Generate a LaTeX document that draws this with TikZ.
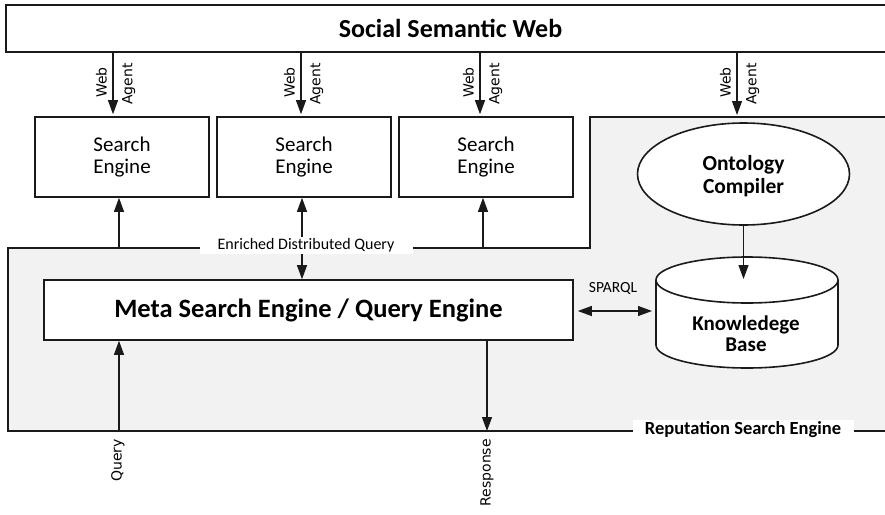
\documentclass[tikz,border=0pt]{standalone}
\usepackage{fontspec}
\setmainfont{Carlito}
\newfontfamily\vfont{DejaVu Sans}
\usetikzlibrary{arrows.meta,shapes.geometric}
\definecolor{bg}{HTML}{F2F2F2}
\definecolor{ln}{HTML}{1A1A1A}
\begin{document}
\begin{tikzpicture}[x=1pt,y=-1pt,
  box/.style={draw=ln, line width=1.6pt, fill=white, inner sep=0pt, align=center},
  arr/.style={-{Triangle[length=14pt,width=10pt]}, line width=1.1pt, draw=ln},
  darr/.style={{Triangle[length=14pt,width=10pt]}-{Triangle[length=14pt,width=10pt]}, line width=1.1pt, draw=ln},
  vlab/.style={font=\vfont\fontsize{14}{17}\selectfont, inner sep=0pt, rotate=90},
  wlab/.style={fill=white, inner sep=0pt}]
\clip (0,0) rectangle (885,514);
\fill[white] (0,0) rectangle (885,514);
% reputation search engine region
\draw[fill=bg, draw=ln, line width=1.4pt] (8,248) -- (590,248) -- (590,117) -- (900,117) -- (900,431) -- (8,431) -- cycle;
% top box
\node[box, minimum width=889pt, minimum height=47pt, font=\bfseries\fontsize{26}{30}\selectfont] (ssw) at (450.5,28.5) {Social Semantic Web};
% search engines
\node[box, minimum width=174pt, minimum height=80pt, font=\fontsize{21}{22}\selectfont] (se1) at (122,157) {Search\\Engine};
\node[box, minimum width=174pt, minimum height=80pt, font=\fontsize{21}{22}\selectfont] (se2) at (304,157) {Search\\Engine};
\node[box, minimum width=174pt, minimum height=80pt, font=\fontsize{21}{22}\selectfont] (se3) at (486,157) {Search\\Engine};
% meta search engine
\node[box, minimum width=529pt, minimum height=60pt, font=\bfseries\fontsize{26.5}{30}\selectfont] (meta) at (308.5,310) {Meta Search Engine / Query Engine};
% ontology compiler
\node[box, ellipse, minimum width=212pt, minimum height=102pt, text depth=0pt, font=\bfseries\fontsize{21.5}{23}\selectfont] (onto) at (743.5,174) {Ontology\\Compiler};
% knowledge base (cylinder)
\draw[fill=white, draw=ln, line width=1.6pt] (656,280) -- (656,345) arc[start angle=180, end angle=0, x radius=91, y radius=23] -- (838,280);
\draw[fill=white, draw=ln, line width=1.6pt] (747,280) ellipse[x radius=91, y radius=23];
\node[inner sep=0pt, align=center, font=\bfseries\fontsize{21}{21}\selectfont] (kb) at (746,334) {Knowledege\\Base};
% web agent arrows
\coordinate (w1) at (113,0);
\coordinate (w2) at (301,0);
\coordinate (w3) at (480,0);
\coordinate (w4) at (737,117);
\draw[arr, shorten >=2pt] (ssw.south -| w1) -- (se1.north -| w1);
\draw[arr, shorten >=2pt] (ssw.south -| w2) -- (se2.north -| w2);
\draw[arr, shorten >=2pt] (ssw.south -| w3) -- (se3.north -| w3);
\draw[arr, shorten >=2pt] (ssw.south -| w4) -- (w4);
\foreach \n/\x in {a/113,b/301,c/480,d/737}{
  \node[vlab, anchor=south west] (web\n) at (\x-6,98) {Web};
  \node[vlab, anchor=north west] (agent\n) at (\x+9,105) {Agent};
}
% enriched distributed query
\coordinate (g1) at (119,248);
\coordinate (g3) at (483,248);
\coordinate (g2) at (302,0);
\draw[arr] (g1) -- (se1.south -| g1);
\draw[arr] (g3) -- (se3.south -| g3);
\draw[darr] (se2.south -| g2) -- (meta.north -| g2);
\node[wlab, minimum width=213pt, minimum height=17pt, font=\fontsize{16}{18}\selectfont] (edq) at (306,245.5) {Enriched Distributed Query};
% sparql
\coordinate (sp) at (652,311);
\draw[darr, shorten <=4pt] (meta.east |- sp) -- (sp);
\node[inner sep=0pt, font=\fontsize{15.5}{18}\selectfont] (sparql) at (613,288) {SPARQL};
% ontology -> kb
\coordinate (kbtip) at (743.5,279);
\draw[arr] (onto.south) -- (kbtip);
% reputation search engine label
\node[wlab, minimum width=221pt, minimum height=20pt, font=\bfseries\fontsize{18.5}{20}\selectfont] (rse) at (743,430) {Reputation Search Engine};
% query / response
\coordinate (q) at (119,431);
\coordinate (r) at (487,431);
\draw[arr] (q) -- (q |- meta.south);
\draw[arr] (r |- meta.south) -- (r);
\node[vlab, anchor=east] (ql) at (118,439) {Query};
\node[vlab, anchor=east] (rl) at (487,439) {Response};
\end{tikzpicture}
\end{document}
